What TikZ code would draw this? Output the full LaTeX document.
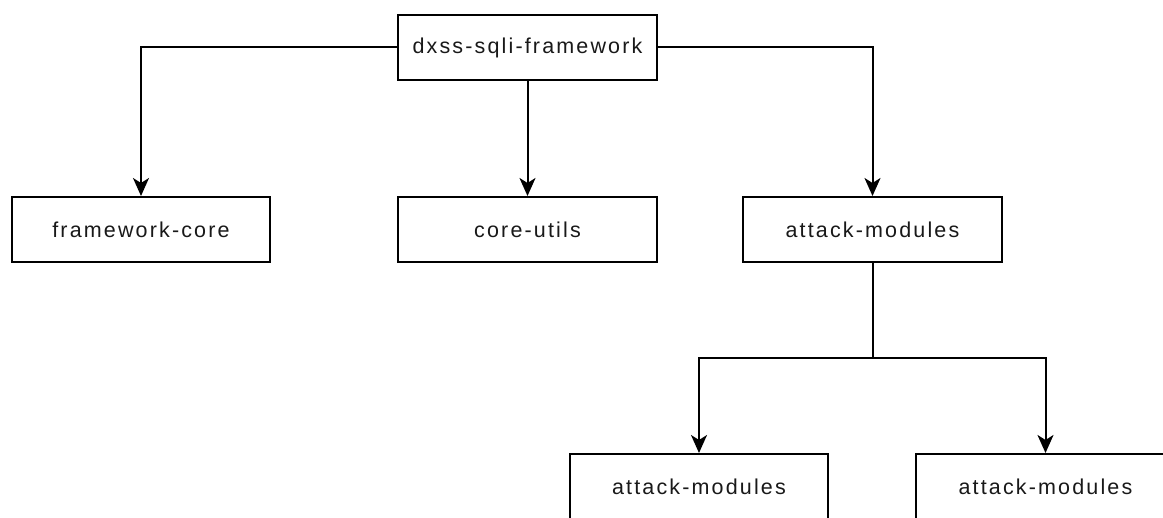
\documentclass[tikz,border=0pt]{standalone}
\usepackage{fontspec}
\setmainfont[LetterSpace=10]{Liberation Sans}
\usetikzlibrary{arrows.meta}
\tikzset{
  modbox/.style={draw=black, line width=2pt, fill=white, minimum width=259pt,
    minimum height=65pt, inner sep=0pt, text=black!90,
    font=\fontsize{21.5}{25}\selectfont},
  link/.style={draw=black, line width=2pt},
  arr/.style={link, -{Stealth[length=18pt,width=16pt,inset=5pt]}}
}
\begin{document}
\begin{tikzpicture}[x=1pt,y=-1pt]
  \useasboundingbox (0,0) rectangle (1163,518);
  \clip (0,0) rectangle (1163,518);
  % root and first level
  \node[modbox] (root) at (527.5,47.5) {dxss-sqli-framework};
  \node[modbox, minimum width=258pt] (fcore) at (141,229.5) {framework-core};
  \node[modbox] (cutils) at (527.5,229.5) {core-utils};
  \node[modbox] (attack) at (872.5,229.5) {attack-modules};
  % second level below attack-modules
  \node[modbox, minimum width=258pt] (attackA) at (699,486.5) {attack-modules};
  \node[modbox] (attackB) at (1045.5,486.5) {attack-modules};
  % connectors
  \draw[arr] (root.west) -| (fcore.north);
  \draw[arr] (root.south) -- (cutils.north);
  \draw[arr] (root.east) -| (attack.north);
  \coordinate (split) at (872.5,358);
  \draw[link] (attack.south) -- (split);
  \draw[arr] (split) -| (attackA.north);
  \draw[arr] (split) -| (attackB.north);
\end{tikzpicture}
\end{document}
